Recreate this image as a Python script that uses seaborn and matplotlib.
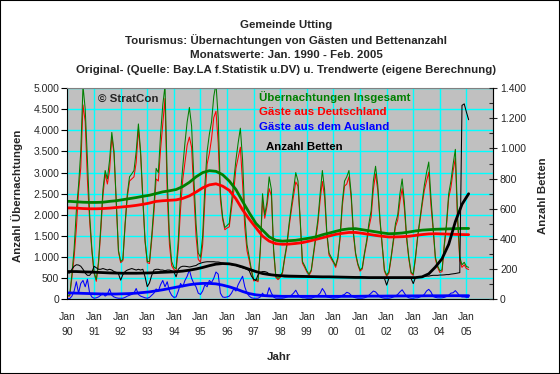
import numpy as np
import pandas as pd
import matplotlib
matplotlib.use("Agg")
import matplotlib.pyplot as plt
import seaborn as sns
from matplotlib.ticker import FuncFormatter, MultipleLocator
from matplotlib.patches import Rectangle

sns.set_style("white")
plt.rcParams['font.family'] = ['Liberation Sans', 'DejaVu Sans']

# ------------------------------------------------------------
# Monatswerte Jan. 1990 - Feb. 2005
# ------------------------------------------------------------
jahre = list(range(1990, 2006))
jahr_labels = ["Jan\n" + str(j)[2:] for j in jahre]

# Übernachtungen insgesamt
uebernachtungen = [
    100, 100, 600, 1200, 2100, 2700, 3500, 5050, 4500, 3300, 2000, 1200,     # 1990
    650, 470, 900, 1700, 2600, 3050, 2850, 3300, 3950, 3500, 2300, 1160,     # 1991
    900, 950, 1800, 2500, 2900, 2970, 3050, 3500, 4150, 3500, 2400, 1400,    # 1992
    900, 900, 1500, 2200, 3100, 3000, 3900, 4600, 5050, 2900, 1500, 900,     # 1993
    760, 730, 1400, 2500, 3130, 3700, 4200, 4540, 4100, 2900, 1800, 1100,    # 1994
    1000, 1500, 2700, 3500, 3900, 4200, 4800, 5100, 4300, 2500, 1950, 1700,  # 1995
    1750, 1800, 2300, 2800, 3300, 3700, 4050, 3300, 2000, 1300, 1000, 700,   # 1996
    470, 480, 450, 1200, 2500, 2000, 2300, 2900, 2600, 1200, 550, 500,       # 1997
    550, 650, 1000, 1320, 1800, 2200, 2600, 3000, 2800, 1900, 900, 800,      # 1998
    680, 600, 700, 1100, 1500, 1900, 2500, 3050, 2600, 1600, 1100, 1000,     # 1999
    900, 800, 1000, 1500, 2300, 2800, 2900, 3050, 2500, 1600, 1100, 850,     # 2000
    700, 750, 1100, 1400, 1800, 2100, 2800, 3150, 2700, 1900, 1300, 700,     # 2001
    580, 650, 1000, 1400, 1800, 2000, 2500, 2850, 2300, 1500, 1000, 650,     # 2002
    600, 1000, 1500, 1900, 2300, 2700, 3000, 3250, 2400, 1700, 1000, 800,    # 2003
    680, 700, 1300, 1800, 2500, 2800, 3200, 3550, 2000, 1000, 820, 880,      # 2004
    780, 760,                                                                # 2005
]

# Gäste aus dem Ausland
ausland = [
    20, 20, 80, 200, 420, 150, 380, 450, 300, 480, 150, 60,
    30, 40, 60, 100, 150, 80, 120, 250, 100, 60, 40, 30,
    30, 30, 50, 80, 100, 120, 150, 260, 120, 80, 60, 40,
    30, 50, 100, 150, 250, 200, 350, 450, 300, 420, 200, 100,
    50, 60, 200, 380, 300, 450, 550, 700, 500, 380, 300, 150,
    120, 200, 350, 300, 450, 400, 500, 650, 600, 150, 60, 50,
    60, 80, 150, 250, 200, 350, 450, 550, 300, 150, 80, 40,
    30, 30, 30, 60, 150, 80, 100, 280, 150, 60, 30, 30,
    30, 30, 40, 60, 80, 100, 150, 220, 120, 60, 40, 40,
    30, 30, 30, 50, 80, 100, 150, 260, 180, 60, 50, 40,
    30, 40, 40, 60, 100, 120, 170, 150, 100, 60, 40, 30,
    30, 30, 40, 60, 100, 150, 200, 180, 120, 60, 40, 30,
    30, 30, 40, 60, 80, 120, 180, 230, 150, 70, 40, 30,
    30, 40, 40, 60, 80, 120, 200, 240, 180, 70, 50, 40,
    40, 40, 50, 70, 100, 150, 160, 210, 150, 80, 60, 60,
    50, 50,
]

# Anzahl Betten (rechte Achse)
betten = [
    175, 175, 200, 220, 230, 228, 220, 200, 175, 160, 160, 180,
    220, 210, 200, 200, 205, 200, 195, 200, 195, 185, 180, 170,
    128, 165, 185, 195, 200, 205, 200, 195, 200, 195, 200, 150,
    85, 110, 160, 195, 200, 200, 195, 195, 190, 195, 195, 190,
    185, 150, 200, 215, 220, 220, 218, 215, 218, 222, 225, 235,
    240, 245, 248, 250, 250, 250, 250, 248, 248, 245, 240, 238,
    235, 235, 230, 228, 225, 220, 215, 210, 205, 200, 190, 155,
    135, 125, 165, 180, 185, 185, 180, 170, 165, 162, 160, 158,
    155, 152, 150, 150, 150, 150, 150, 150, 150, 150, 150, 150,
    150, 150, 150, 150, 150, 150, 150, 150, 150, 150, 150, 150,
    150, 150, 148, 148, 148, 148, 148, 148, 148, 148, 148, 148,
    148, 145, 145, 145, 145, 145, 145, 145, 145, 145, 145, 140,
    95, 140, 145, 145, 145, 145, 145, 145, 145, 145, 145, 140,
    105, 145, 150, 150, 150, 152, 155, 155, 158, 160, 160, 160,
    162, 162, 163, 165, 165, 168, 170, 172, 175, 178, 1285, 1295,
    1240, 1190,
]

# Trendwerte (eigene Berechnung), Stützstellen: Monat 0, 1, 4, 7, ... 181
trend_insgesamt = [
    2320, 2320, 2310, 2300, 2295, 2295, 2300, 2320, 2335, 2360, 2385, 2410,
    2440, 2465, 2505, 2545, 2570, 2600, 2670, 2770, 2900, 3000, 3045, 3030,
    2950, 2800, 2600, 2320, 2050, 1800, 1640, 1480, 1400, 1380, 1390, 1400,
    1425, 1450, 1480, 1530, 1570, 1610, 1650, 1670, 1675, 1650, 1625, 1600,
    1575, 1555, 1560, 1572, 1595, 1620, 1640, 1650, 1660, 1665, 1670, 1675,
    1680, 1680,
]
trend_deutschland = [
    2165, 2165, 2160, 2150, 2145, 2145, 2150, 2160, 2175, 2190, 2205, 2225,
    2250, 2280, 2320, 2335, 2345, 2355, 2390, 2450, 2540, 2640, 2710, 2735,
    2680, 2580, 2380, 2120, 1900, 1700, 1500, 1380, 1320, 1305, 1310, 1325,
    1345, 1380, 1420, 1460, 1500, 1540, 1565, 1585, 1585, 1565, 1540, 1515,
    1495, 1478, 1480, 1485, 1495, 1515, 1535, 1550, 1555, 1550, 1545, 1540,
    1535, 1533,
]
trend_ausland = [
    155, 155, 150, 145, 140, 135, 130, 130, 130, 135, 140, 150,
    165, 180, 205, 230, 260, 290, 320, 350, 370, 380, 380, 370,
    340, 300, 250, 190, 140, 110, 95, 85, 80, 75, 75, 75,
    75, 75, 75, 75, 75, 75, 75, 75, 75, 78, 80, 80,
    80, 82, 82, 84, 85, 86, 86, 88, 88, 88, 90, 90,
    90, 90,
]
trend_betten = [
    185, 185, 185, 183, 182, 180, 178, 176, 175, 174, 174, 174,
    175, 176, 178, 180, 182, 184, 188, 194, 202, 212, 224, 234,
    238, 236, 228, 215, 200, 185, 172, 165, 160, 157, 155, 154,
    153, 152, 151, 150, 150, 149, 148, 147, 146, 146, 145, 145,
    145, 145, 145, 145, 145, 145, 150, 170, 215, 270, 365, 515,
    630, 700,
]

# ------------------------------------------------------------
t_monat = 1990 + np.arange(len(uebernachtungen)) / 12
t_trend = 1990 + np.array([0] + list(range(1, 182, 3))) / 12

df = pd.DataFrame({
    "t": t_monat,
    "insgesamt": uebernachtungen,
    "ausland": ausland,
    "betten": betten,
})
df["deutschland"] = df["insgesamt"] - df["ausland"]

df_trend = pd.DataFrame({
    "t": t_trend,
    "insgesamt": trend_insgesamt,
    "deutschland": trend_deutschland,
    "ausland": trend_ausland,
    "betten": trend_betten,
})

GRUEN = "#008000"
ROT = "#FF0000"
BLAU = "#0000FF"
FETT = 8.25
DUENN = 0.75
DICK = 2.0

fig = plt.figure(figsize=(5.6, 3.74), dpi=100)
ax = fig.add_axes([0.1205, 0.1992, 0.7599, 0.5655])
ax.set_facecolor("#C0C0C0")

# Originalwerte (dünn)
sns.lineplot(data=df, x="t", y="deutschland", ax=ax, color=ROT, linewidth=DUENN)
sns.lineplot(data=df, x="t", y="insgesamt", ax=ax, color=GRUEN, linewidth=DUENN)
sns.lineplot(data=df, x="t", y="ausland", ax=ax, color=BLAU, linewidth=DUENN)
# Trendwerte (dick)
sns.lineplot(data=df_trend, x="t", y="deutschland", ax=ax, color=ROT, linewidth=DICK)
sns.lineplot(data=df_trend, x="t", y="insgesamt", ax=ax, color=GRUEN, linewidth=DICK)
sns.lineplot(data=df_trend, x="t", y="ausland", ax=ax, color=BLAU, linewidth=DICK)

ax.set_xlim(1990, 2006)
ax.set_ylim(0, 5000)
ax.set_xticks(jahre)
ax.set_xticklabels(jahr_labels, linespacing=1.6)
ax.xaxis.set_minor_locator(MultipleLocator(1 / 12))
ax.yaxis.set_major_locator(MultipleLocator(500))
tausender = FuncFormatter(lambda v, p: f"{int(v):,}".replace(",", "."))
ax.yaxis.set_major_formatter(tausender)

ax.grid(True, which="major", color="#00FFFF", linewidth=1.0)
ax.set_axisbelow(True)
ax.tick_params(axis="both", which="major", labelsize=7.5, length=4, width=0.8,
               direction="out", color="black", pad=2)
ax.tick_params(axis="x", which="minor", length=1.5, width=0.6, direction="out")
ax.tick_params(axis="x", which="major", pad=5)
for side in ["left", "bottom"]:
    ax.spines[side].set_color("black")
    ax.spines[side].set_linewidth(0.8)
for side in ["top", "right"]:
    ax.spines[side].set_color("#808080")
    ax.spines[side].set_linewidth(0.8)

ax.set_xlabel("Jahr", fontsize=FETT, fontweight="bold")
ax.set_ylabel("Anzahl Übernachtungen", fontsize=FETT, fontweight="bold")
ax.xaxis.set_label_coords(0.497, -0.25)
ax.yaxis.set_label_coords(-0.105, 0.49)

# Rechte Achse: Betten
ax2 = ax.twinx()
sns.lineplot(data=df, x="t", y="betten", ax=ax2, color="black", linewidth=DUENN)
sns.lineplot(data=df_trend, x="t", y="betten", ax=ax2, color="black", linewidth=DICK)
ax2.set_ylim(0, 1400)
ax2.set_xlim(1990, 2006)
ax2.yaxis.set_major_locator(MultipleLocator(200))
ax2.yaxis.set_minor_locator(MultipleLocator(100))
ax2.yaxis.set_major_formatter(tausender)
ax2.tick_params(axis="y", which="major", labelsize=7.5, length=6, width=0.8,
                direction="inout", pad=2)
ax2.tick_params(axis="y", which="minor", length=3, width=0.8, direction="in")
ax2.spines["right"].set_color("black")
ax2.spines["right"].set_linewidth(0.8)
for side in ["left", "top", "bottom"]:
    ax2.spines[side].set_visible(False)
ax2.set_ylabel("Anzahl Betten", fontsize=FETT, fontweight="bold")
ax2.yaxis.set_label_coords(1.106, 0.49)

# Titel
titel = [
    "Gemeinde Utting",
    "Tourismus: Übernachtungen von Gästen und Bettenanzahl",
    "Monatswerte: Jan. 1990 - Feb. 2005",
    "Original- (Quelle: Bay.LA f.Statistik u.DV) u. Trendwerte (eigene Berechnung)",
]
for i, zeile in enumerate(titel):
    fig.text(286 / 560, 1 - (25 + 15 * i) / 374, zeile, ha="center", va="center",
             fontsize=FETT, fontweight="bold")

# Legende als Text im Diagramm
legende = [
    ("Übernachtungen Insgesamt", GRUEN, 259, 97),
    ("Gäste aus Deutschland", ROT, 259, 112),
    ("Gäste aus dem Ausland", BLAU, 259, 127),
    ("Anzahl Betten", "black", 266, 147),
]
for text, farbe, px, py in legende:
    fig.text(px / 560, 1 - py / 374, text, color=farbe, ha="left", va="center",
             fontsize=FETT, fontweight="bold")
fig.text(98 / 560, 1 - 99 / 374, "© StratCon", ha="left", va="center",
         fontsize=FETT, fontweight="bold")

fig.add_artist(Rectangle((0, 0), 1, 1, transform=fig.transFigure, fill=False,
                         edgecolor="black", linewidth=1.5))

fig.savefig("out.png", dpi=100, facecolor="white")
